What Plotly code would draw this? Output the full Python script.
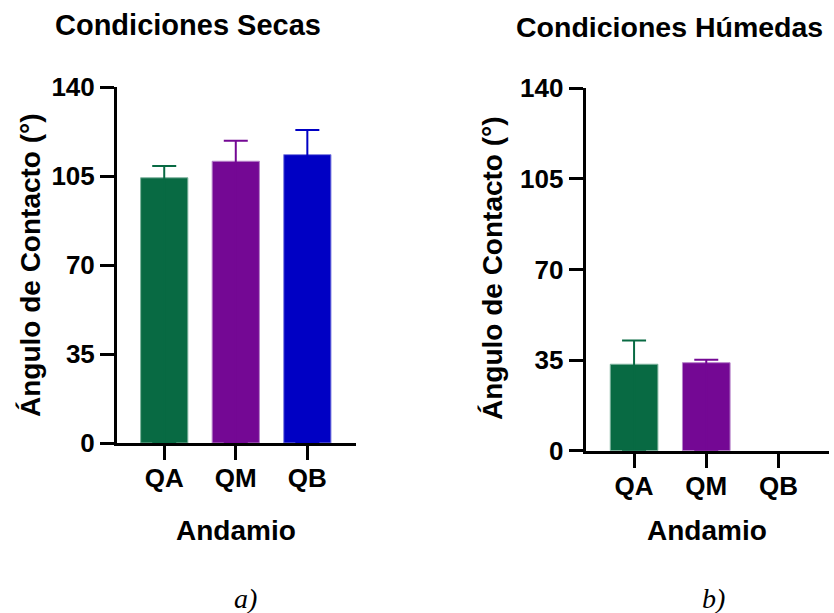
import plotly.graph_objects as go

# ---------------- data ----------------
categories = ["QA", "QM", "QB"]
secas_mean = [104.3, 110.8, 113.4]
secas_err = [4.6, 8.1, 9.7]
humedas_mean = [33.4, 34.0, None]
humedas_err = [9.2, 1.1, None]
y_ticks = [0, 35, 70, 105, 140]
colors = ["#086A43", "#740894", "#0000C4"]
edge_colors = ["#7FB49E", "#B681C9", "#8080E0"]

W, H = 834, 613
def px(x):
    return x / W
def py(y):
    return 1 - y / H

FONT = "Liberation Sans"
fig = go.Figure()

panels = [
    dict(mean=secas_mean, err=secas_err, xa="x", ya="y"),
    dict(mean=humedas_mean, err=humedas_err, xa="x2", ya="y2"),
]
for p in panels:
    for i, cat in enumerate(categories):
        v = p["mean"][i]
        if v is None:
            continue
        fig.add_trace(go.Bar(
            x=[cat], y=[v], width=0.66,
            marker=dict(color=colors[i], line=dict(color=edge_colors[i], width=1)),
            error_y=dict(type="data", array=[p["err"][i]], arrayminus=[v],
                         symmetric=False, color=colors[i], thickness=2, width=12),
            xaxis=p["xa"], yaxis=p["ya"], showlegend=False,
        ))

axis_common = dict(showline=True, linecolor="black", linewidth=3, ticks="outside",
                   ticklen=14, tickwidth=3, tickcolor="black", showgrid=False,
                   zeroline=False, layer="above traces",
                   tickfont=dict(family=FONT, size=26, color="black", weight="bold"))

fig.update_layout(
    width=W, height=H, autosize=False,
    margin=dict(l=0, r=0, t=0, b=0, autoexpand=False),
    plot_bgcolor="white", paper_bgcolor="white",
    barmode="overlay",
    xaxis=dict(domain=[px(117), px(356)], anchor="y", type="category",
               categoryorder="array", categoryarray=categories,
               range=[-0.66, 2.68], ticklabelstandoff=-4, **axis_common),
    yaxis=dict(domain=[py(443), py(87)], anchor="x", range=[0, 140],
               tickvals=y_ticks, **axis_common),
    xaxis2=dict(domain=[px(585.7), px(829)], anchor="y2", type="category",
                categoryorder="array", categoryarray=categories,
                range=[-0.67, 2.7], ticklabelstandoff=-4, **axis_common),
    yaxis2=dict(domain=[py(450.7), py(88.3)], anchor="x2", range=[0, 140],
                tickvals=y_ticks, **axis_common),
)

def ann(text, x, y, size, angle=0, family=FONT, weight="bold", style="normal"):
    fig.add_annotation(text=text, x=px(x), y=py(y), xref="paper", yref="paper",
                       xanchor="center", yanchor="middle", showarrow=False,
                       textangle=angle,
                       font=dict(family=family, size=size, color="black",
                                 weight=weight, style=style))

ann("Condiciones Secas", 188, 25, 29)
ann("Condiciones Húmedas", 669, 27, 28.5)
ann("Ángulo de Contacto (°)", 30, 265, 28, angle=-90)
ann("Ángulo de Contacto (°)", 493, 268, 28, angle=-90)
ann("Andamio", 236, 530, 28)
ann("Andamio", 707, 530, 28)
ann("a)", 245, 598, 28, family="Liberation Serif", weight="normal", style="italic")
ann("b)", 713, 598, 28, family="Liberation Serif", weight="normal", style="italic")

fig.write_html("out.html")
